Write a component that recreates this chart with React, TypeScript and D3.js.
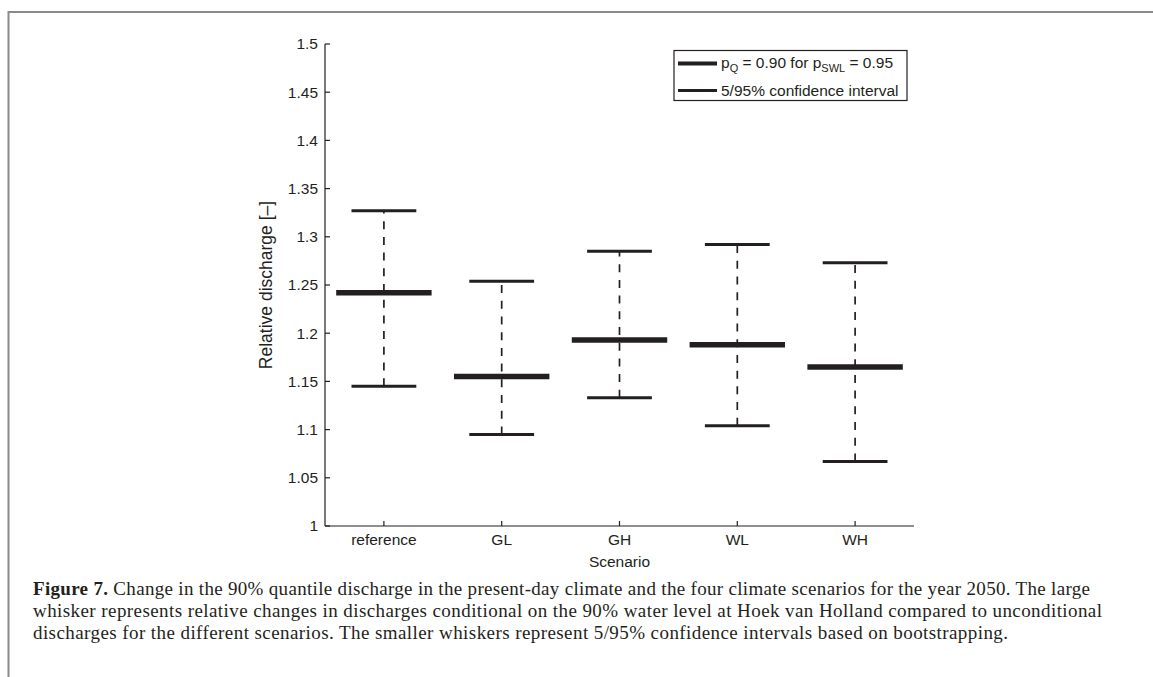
import React from 'react';
import * as d3 from 'd3';

const scenarios = ['reference', 'GL', 'GH', 'WL', 'WH'];
const conditional = [1.242, 1.155, 1.193, 1.188, 1.165];
const ciLower = [1.145, 1.095, 1.133, 1.104, 1.067];
const ciUpper = [1.327, 1.254, 1.285, 1.292, 1.273];
const yTicks = [1, 1.05, 1.1, 1.15, 1.2, 1.25, 1.3, 1.35, 1.4, 1.45, 1.5];

const ink = '#231f20';
const sans = 'Liberation Sans, Arial, sans-serif';
const serif = 'Liberation Serif, Times New Roman, serif';
const fs = 15.5;

export default function App() {
  const width = 1153;
  const height = 677;

  // plot area
  const left = 325;
  const right = 914;
  const top = 44;
  const bottom = 526;

  const x = d3.scaleLinear().domain([0.5, scenarios.length + 0.5]).range([left, right]);
  const y = d3.scaleLinear().domain([1, 1.5]).range([bottom, top]);
  const band = x(1) - x(0);
  const bigHalf = band * 0.405;
  const smallHalf = band * 0.275;

  return (
    <svg width={width} height={height} style={{ position: 'absolute', left: 0, top: 0 }}>
      <rect width={width} height={height} fill="#fff" />
      {/* figure frame */}
      <path d={`M${width},12 H8.5 V${height}`} fill="none" stroke="#8a8a8a" strokeWidth={2} />

      {/* y axis */}
      <line x1={left} x2={left} y1={top} y2={bottom} stroke={ink} strokeWidth={1.2} />
      {yTicks.map((t) => (
        <g key={t}>
          <line x1={left} x2={left + 5} y1={y(t)} y2={y(t)} stroke={ink} strokeWidth={1.2} />
          <text x={318} y={y(t)} dy="0.35em" textAnchor="end" fontFamily={sans} fontSize={fs} fill={ink}>
            {d3.format('')(t)}
          </text>
        </g>
      ))}
      <text
        transform={`translate(266,${(top + bottom) / 2}) rotate(-90)`}
        textAnchor="middle"
        dy="0.35em"
        fontFamily={sans}
        fontSize={17.5}
        fill={ink}
      >
        Relative discharge [–]
      </text>

      {/* x axis */}
      <line x1={left} x2={right} y1={bottom} y2={bottom} stroke={ink} strokeWidth={1.2} />
      {scenarios.map((s, i) => (
        <g key={s}>
          <line x1={x(i + 1)} x2={x(i + 1)} y1={bottom} y2={bottom - 5} stroke={ink} strokeWidth={1.2} />
          <text x={x(i + 1)} y={545} textAnchor="middle" fontFamily={sans} fontSize={fs} fill={ink}>
            {s}
          </text>
        </g>
      ))}
      <text x={x(3)} y={567} textAnchor="middle" fontFamily={sans} fontSize={fs} fill={ink}>
        Scenario
      </text>

      {/* whiskers */}
      {scenarios.map((s, i) => {
        const cx = x(i + 1);
        return (
          <g key={s}>
            <line x1={cx} x2={cx} y1={y(ciLower[i])} y2={y(ciUpper[i])} stroke={ink} strokeWidth={1.7} strokeDasharray="8,7.7" />
            <line x1={cx - smallHalf} x2={cx + smallHalf} y1={y(ciUpper[i])} y2={y(ciUpper[i])} stroke={ink} strokeWidth={3} />
            <line x1={cx - smallHalf} x2={cx + smallHalf} y1={y(ciLower[i])} y2={y(ciLower[i])} stroke={ink} strokeWidth={3} />
            <line x1={cx - bigHalf} x2={cx + bigHalf} y1={y(conditional[i])} y2={y(conditional[i])} stroke={ink} strokeWidth={5.5} />
          </g>
        );
      })}

      {/* legend */}
      <g>
        <rect x={674} y={50.5} width={233} height={50} fill="#fff" stroke={ink} strokeWidth={1.2} />
        <line x1={678} x2={717} y1={63.5} y2={63.5} stroke={ink} strokeWidth={4} />
        <line x1={678} x2={717} y1={90.5} y2={90.5} stroke={ink} strokeWidth={3} />
        <text x={721} y={68} fontFamily={sans} fontSize={fs} fill={ink}>
          p<tspan fontSize={11} dy={4}>Q</tspan>
          <tspan dy={-4}> = 0.90 for p</tspan>
          <tspan fontSize={11} dy={4}>SWL</tspan>
          <tspan dy={-4}> = 0.95</tspan>
        </text>
        <text x={721} y={96} fontFamily={sans} fontSize={fs} fill={ink}>
          5/95% confidence interval
        </text>
      </g>

      {/* caption */}
      <text x={33} y={595} fontFamily={serif} fontSize={19} fill={ink} textLength={1057} lengthAdjust="spacing">
        <tspan fontWeight="bold">Figure 7.</tspan> Change in the 90% quantile discharge in the present-day climate and the four climate scenarios for the year 2050. The large
      </text>
      <text x={33} y={617} fontFamily={serif} fontSize={19} fill={ink} textLength={1069} lengthAdjust="spacing">
        whisker represents relative changes in discharges conditional on the 90% water level at Hoek van Holland compared to unconditional
      </text>
      <text x={33} y={639} fontFamily={serif} fontSize={19} fill={ink} textLength={975} lengthAdjust="spacing">
        discharges for the different scenarios. The smaller whiskers represent 5/95% confidence intervals based on bootstrapping.
      </text>
    </svg>
  );
}
